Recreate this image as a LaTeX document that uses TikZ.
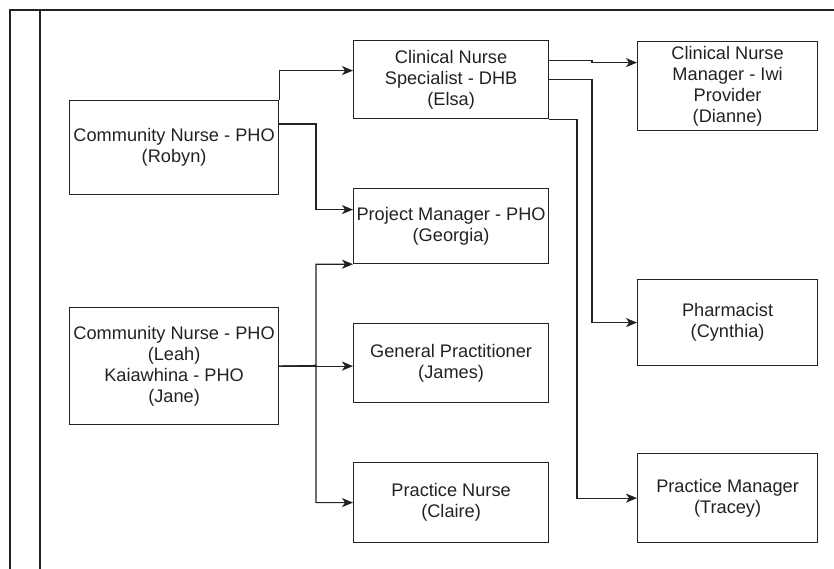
\documentclass[tikz,border=0pt]{standalone}
\usepackage{fontspec}
\setmainfont{Liberation Sans}
\usetikzlibrary{arrows.meta}
\definecolor{ink}{HTML}{222222}
\begin{document}
\begin{tikzpicture}[x=1pt,y=-1pt,
  box/.style={draw=ink,line width=1.2pt,rectangle,inner sep=0pt,align=center,
    text=ink,font=\fontsize{18.2}{21}\selectfont,anchor=north west},
  conn/.style={draw=ink,line width=1.1pt,-{Stealth[length=11pt,width=9pt,inset=3pt]}},
  frame/.style={draw=ink,line width=1.3pt}]
\useasboundingbox (0,0) rectangle (834,569);
% frame
\coordinate (ftl) at (10,10);
\coordinate (ftr) at (834,10);
\coordinate (fbl) at (10,569);
\coordinate (i1) at (40,10);
\coordinate (i2) at (40,569);
\draw[frame] (fbl) -- (ftl) -- (ftr);
\draw[frame] (i1) -- (i2);
% boxes
\node[box,minimum width=209pt,minimum height=94pt] (robyn) at (69,100) {Community Nurse - PHO\\(Robyn)};
\node[box,minimum width=209pt,minimum height=117pt] (leah) at (69,307) {Community Nurse - PHO\\(Leah)\\Kaiawhina - PHO\\(Jane)};
\node[box,minimum width=195pt,minimum height=78pt] (elsa) at (353,40) {Clinical Nurse\\Specialist - DHB\\(Elsa)};
\node[box,minimum width=195pt,minimum height=75pt] (georgia) at (353,188) {Project Manager - PHO\\(Georgia)};
\node[box,minimum width=195pt,minimum height=79pt] (james) at (353,323) {General Practitioner\\(James)};
\node[box,minimum width=195pt,minimum height=80pt] (claire) at (353,462) {Practice Nurse\\(Claire)};
\node[box,minimum width=180pt,minimum height=89pt] (dianne) at (637,41) {Clinical Nurse\\Manager - Iwi\\Provider\\(Dianne)};
\node[box,minimum width=180pt,minimum height=86pt] (cynthia) at (637,279) {Pharmacist\\(Cynthia)};
\node[box,minimum width=180pt,minimum height=89pt] (tracey) at (637,453) {Practice Manager\\(Tracey)};
% connectors
\coordinate (r2) at ([yshift=-24pt]robyn.north east);
\coordinate (g1) at ([yshift=16.5pt]georgia.west);
\coordinate (e1) at ([yshift=19pt]elsa.east);
\coordinate (d1) at ([yshift=23.5pt]dianne.west);
\draw[conn] (robyn.north east) |- ([yshift=9pt]elsa.west);
\draw[conn] (r2) -- (316,124) |- (g1);
\draw[conn] (leah.east) -- (316,365.5) |- (georgia.south west);
\draw[conn] (leah.east) -- (leah.east -| james.west);
\draw[conn] (leah.east) -- (316,365.5) |- (claire.west);
\draw[conn] (e1) -- (e1 -| 592,0) -- (d1 -| 592,0) -- (d1);
\draw[conn] (elsa.east) -| (592,300) |- (cynthia.west);
\draw[conn] (elsa.south east) -| (577,400) |- (tracey.west);
\end{tikzpicture}
\end{document}
